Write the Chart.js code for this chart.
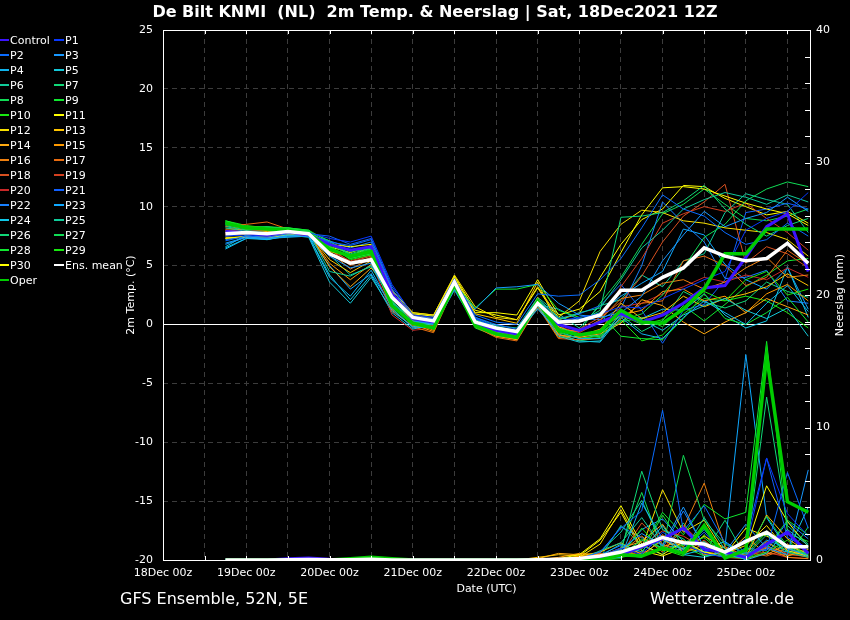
<!DOCTYPE html>
<html>
<head>
<meta charset="utf-8">
<title>De Bilt KNMI 2m Temp. &amp; Neerslag</title>
<script src="https://cdn.jsdelivr.net/npm/chart.js@4.4.1/dist/chart.umd.min.js"></script>
<style>
    html, body { margin: 0; padding: 0; background: #000; }
    #wrap { position: relative; width: 850px; height: 620px; overflow: hidden; font-family: "DejaVu Sans", sans-serif; color: #fff; }
    #chart { position: absolute; left: 0; top: 0; }
    #title { position: absolute; top: 2px; left: 0; width: 870px; text-align: center; font-weight: bold; font-size: 16px; white-space: pre; }
    #legend { position: absolute; left: 0; top: 33px; display: grid; grid-template-columns: 54px 72px; grid-auto-rows: 15px; font-size: 11px; line-height: 15px; }
    #legend .item { white-space: nowrap; }
    #legend .swatch { display: inline-block; width: 9px; height: 2px; vertical-align: middle; margin-right: 1px; position: relative; top: -1px; }
    #legend .item:nth-child(2n) .swatch { width: 10px; }
    .foot { position: absolute; top: 589px; font-size: 16px; }
    #foot-left { left: 120px; }
    #foot-right { right: 56px; }
</style>
</head>
<body>
<div id="wrap">
    <canvas id="chart" width="850" height="620"></canvas>
    <div id="title">De Bilt KNMI  (NL)  2m Temp. &amp; Neerslag | Sat, 18Dec2021 12Z</div>
    <div id="legend"></div>
    <div class="foot" id="foot-left">GFS Ensemble, 52N, 5E</div>
    <div class="foot" id="foot-right">Wetterzentrale.de</div>
</div>
<script>
// forecast hours after 18Dec 00z (run 18Dec 12Z, 6-hourly)
const hours = [18, 24, 30, 36, 42, 48, 54, 60, 66, 72, 78, 84, 90, 96, 102, 108, 114, 120, 126, 132, 138, 144, 150, 156, 162, 168, 174, 180, 186];
const gridHours = [0, 12, 24, 36, 48, 60, 72, 84, 96, 108, 120, 132, 144, 156, 168, 180];
const dayLabels = ['18Dec 00z', '19Dec 00z', '20Dec 00z', '21Dec 00z', '22Dec 00z', '23Dec 00z', '24Dec 00z', '25Dec 00z'];
const tempTicks = [-20, -15, -10, -5, 0, 5, 10, 15, 20, 25];
const rainTicks = [0, 10, 20, 30, 40];

// 2m temperature (°C)
const tControl = [7.9, 7.8, 7.6, 7.9, 7.6, 6.8, 6.3, 6.6, 2.6, 0.5, 0.2, 3.6, 0.1, -0.5, -0.8, 1.9, 0.0, -0.5, 0.2, 0.9, 0.2, 0.8, 1.8, 3.1, 3.3, 5.7, 8.3, 9.4, 4.5];
const tP1  = [7.5, 7.6, 7.5, 7.8, 7.8, 7.3, 7.0, 7.5, 3.4, 0.8, 0.6, 3.9, 0.5, -0.2, -0.6, 2.0, 0.3, 0.6, 0.9, 1.5, 1.4, 2.2, 3.0, 3.8, 4.5, 8.0, 9.0, 9.6, 11.2];
const tP2  = [7.1, 7.5, 7.4, 7.7, 7.6, 7.0, 6.7, 7.2, 3.0, 0.7, 0.5, 3.7, 0.8, 0.2, 0.0, 2.6, 2.4, 2.5, 3.8, 5.6, 8.2, 11.0, 9.8, 9.2, 7.8, 6.8, 7.2, 8.6, 7.5];
const tP3  = [6.8, 7.4, 7.3, 7.5, 7.5, 5.8, 4.8, 5.2, 1.8, 0.3, 0.0, 3.3, 1.3, 3.1, 3.2, 3.4, 1.8, 0.8, 0.6, 1.0, 2.4, 5.4, 7.6, 9.6, 8.3, 9.0, 9.5, 10.8, 9.6];
const tP4  = [6.4, 7.3, 7.3, 7.4, 7.5, 4.0, 2.4, 4.6, 1.4, -0.3, -0.2, 2.9, 0.0, -0.5, -0.8, 1.3, -0.6, -1.2, -1.2, 0.6, -0.8, -1.2, 0.6, 2.0, 1.0, 0.0, 1.8, 3.3, 1.1];
const tP5  = [6.6, 7.6, 7.2, 7.6, 7.4, 3.6, 1.8, 4.0, 1.2, -0.2, 0.1, 3.0, 0.3, -0.6, -1.2, 1.6, -1.0, -1.5, -1.4, 1.0, 0.4, -0.5, 0.8, 1.6, 2.2, 1.2, 0.5, 1.4, -1.0];
const tP6  = [8.2, 7.9, 7.8, 8.0, 7.8, 4.5, 4.1, 5.0, 1.9, 0.5, 0.4, 3.7, 0.2, -0.4, -0.7, 2.1, 0.4, 1.0, 1.4, 3.8, 6.5, 8.0, 9.8, 10.6, 11.2, 10.8, 10.2, 11.0, 10.4];
const tP7  = [8.4, 8.0, 8.2, 8.1, 7.8, 6.9, 6.0, 6.5, 2.2, 0.4, 0.3, 3.8, 0.4, -0.2, -0.5, 2.2, 0.6, 0.2, 1.2, 9.1, 9.2, 9.5, 10.5, 11.8, 9.8, 8.5, 7.5, 8.4, 9.0];
const tP8  = [8.6, 8.1, 8.3, 8.1, 7.9, 7.1, 5.9, 6.4, 2.3, 0.6, 0.4, 3.6, 0.1, -0.6, -0.9, 1.9, -0.3, -0.8, -1.0, 0.3, 0.9, 2.5, 4.8, 7.4, 8.5, 10.5, 11.5, 12.1, 11.7];
const tP9  = [8.8, 8.3, 8.2, 8.2, 8.0, 6.6, 5.6, 6.0, 2.0, 0.2, 0.0, 3.5, 1.4, 3.0, 3.0, 3.4, 1.2, 0.6, 0.9, -1.0, -1.2, -1.3, 0.5, 2.6, 0.5, 0.0, 1.0, 2.3, 0.2];
const tP10 = [8.7, 8.2, 8.1, 8.1, 7.9, 6.7, 5.5, 5.9, 1.8, 0.0, -0.2, 3.4, -0.1, -0.9, -1.2, 1.7, -0.7, -1.2, -1.0, 0.8, 0.0, 0.4, 1.8, 2.8, 2.0, 3.8, 4.5, 2.5, 3.0];
const tP11 = [7.4, 7.4, 7.3, 7.6, 7.7, 6.8, 6.6, 6.8, 2.6, 0.9, 0.7, 4.0, 1.0, 1.0, 0.8, 3.8, 0.8, 1.3, 2.8, 6.1, 9.3, 11.6, 11.7, 11.5, 10.9, 10.3, 9.8, 9.4, 8.4];
const tP12 = [7.3, 7.5, 7.4, 7.7, 7.6, 6.2, 5.8, 6.6, 2.9, 1.0, 0.8, 4.2, 1.5, 0.6, 0.4, 3.2, 0.6, 2.0, 6.2, 8.5, 9.7, 9.5, 8.8, 8.6, 8.2, 8.0, 7.8, 7.2, 5.8];
const tP13 = [7.8, 7.7, 7.9, 7.9, 7.7, 5.5, 4.4, 5.4, 2.7, 0.8, 0.5, 3.9, 0.9, 0.5, 0.1, 3.6, -0.2, -0.9, -0.5, 1.8, 0.5, 1.0, 2.4, 1.5, 2.2, 2.6, 3.2, 4.3, 3.3];
const tP14 = [7.9, 7.6, 7.8, 7.8, 7.8, 4.9, 3.2, 4.8, 2.8, 0.3, -0.4, 3.6, 0.3, -0.8, -1.3, 2.3, -0.9, -1.1, -0.8, 0.1, 2.1, 1.6, 0.2, -0.8, 0.2, 1.0, 2.2, 1.5, 0.8];
const tP15 = [8.0, 8.1, 8.0, 8.0, 7.7, 5.2, 3.8, 5.1, 2.5, 0.0, -0.6, 3.5, 0.0, -1.0, -1.3, 1.6, -1.1, -1.0, -0.4, 0.8, 1.2, 2.8, 3.0, 2.0, 2.4, 1.0, 2.6, 3.4, 2.0];
const tP16 = [8.1, 8.3, 8.2, 8.0, 7.8, 6.2, 4.7, 5.6, 2.4, 0.2, -0.5, 3.3, 0.1, -0.9, -1.2, 2.0, -0.4, -0.6, 0.4, 2.2, 2.5, 3.5, 3.8, 3.0, 3.6, 4.8, 5.7, 4.0, 4.2];
const tP17 = [8.3, 8.5, 8.7, 8.1, 7.8, 6.4, 5.0, 5.7, 1.3, -0.2, -0.7, 3.2, -0.2, -1.1, -1.4, 1.5, -1.2, -1.3, -1.2, 0.5, 1.8, 2.0, 5.4, 5.8, 5.0, 3.3, 4.0, 6.3, 5.1];
const tP18 = [8.0, 7.9, 8.0, 7.8, 7.7, 6.5, 5.3, 5.8, 1.1, -0.1, -0.3, 3.4, 0.2, -0.7, -1.0, 1.8, -0.8, -0.4, 0.6, 1.9, 4.1, 7.0, 9.2, 10.4, 11.9, 5.2, 6.6, 6.0, 4.8];
const tP19 = [7.7, 7.8, 7.6, 7.8, 7.6, 6.3, 5.4, 5.9, 1.5, 0.1, -0.1, 3.5, -0.1, -0.6, -0.9, 1.7, -0.2, -0.7, 0.2, 3.2, 5.6, 8.6, 9.4, 10.0, 9.6, 10.3, 9.0, 7.8, 6.3];
const tP20 = [7.6, 7.7, 7.5, 7.7, 7.5, 6.1, 5.2, 5.4, 0.8, -0.5, -0.3, 3.1, 0.0, -0.7, -1.1, 1.6, -0.9, -1.1, -0.7, 1.5, 1.8, 2.6, 3.2, 4.0, 3.6, 4.2, 3.8, 4.8, 4.0];
const tP21 = [7.5, 7.7, 7.5, 7.8, 7.7, 7.5, 6.8, 7.3, 3.2, 0.9, 0.7, 3.8, 0.6, 0.0, -0.4, 2.2, 0.5, 0.9, 1.6, 3.4, 1.2, -1.6, 1.2, 1.7, 3.8, 9.5, 9.8, 10.3, 9.8];
const tP22 = [7.2, 7.5, 7.4, 7.6, 7.6, 7.1, 6.5, 7.0, 3.0, 0.5, 0.3, 3.6, 0.4, -0.3, -0.6, 2.1, 0.1, 0.5, 0.4, 1.4, 5.0, 10.4, 8.6, 7.0, 3.9, 4.0, 4.6, 2.0, 1.8];
const tP23 = [6.9, 7.4, 7.2, 7.6, 7.5, 5.0, 3.0, 4.3, 1.5, 0.2, 0.2, 3.2, 0.5, -0.2, -0.9, 1.7, 1.3, 0.4, 1.0, 2.4, 3.5, 4.5, 8.1, 7.6, 5.1, 3.8, 3.0, 4.8, 1.3];
const tP24 = [6.5, 7.3, 7.2, 7.5, 7.5, 4.2, 2.1, 4.2, 1.0, -0.4, 0.0, 3.1, 0.2, -0.4, -1.0, 1.4, -0.8, -1.4, -1.5, 0.7, 0.5, 1.3, 1.2, 2.6, 0.8, -0.3, 0.3, 4.9, 0.6];
const tP25 = [8.3, 8.0, 8.0, 7.9, 7.7, 5.9, 4.2, 4.9, 2.1, 0.6, 0.4, 3.7, 0.6, -0.1, -0.3, 2.3, 0.9, -0.3, 1.6, 2.1, 4.2, 3.2, 5.4, 6.0, 9.5, 11.1, 10.6, 10.2, 7.8];
const tP26 = [8.5, 8.1, 8.1, 8.0, 7.8, 6.5, 5.7, 6.1, 2.2, 0.4, 0.2, 3.6, 0.1, -0.5, -0.7, 2.0, 0.0, -1.2, -0.9, 0.8, -0.6, 0.3, 2.8, 1.9, 1.4, 2.0, 3.6, 2.8, 2.3];
const tP27 = [8.6, 8.2, 8.2, 8.1, 7.9, 6.8, 5.9, 6.3, 1.9, 0.3, 0.1, 3.5, -0.2, -0.9, -1.1, 1.8, -0.6, -0.6, 1.8, 4.0, 6.8, 9.4, 10.2, 11.5, 10.2, 9.0, 8.8, 9.2, 9.8];
const tP28 = [8.7, 8.3, 8.3, 8.2, 8.0, 7.0, 6.2, 6.4, 1.7, 0.1, 0.0, 3.4, -0.3, -1.0, -1.2, 1.9, -0.9, -1.4, -1.1, 0.2, 0.6, -0.2, 1.6, 0.3, 1.7, 3.2, 4.2, 5.4, 5.6];
const tP29 = [8.8, 8.4, 8.2, 8.2, 7.9, 6.6, 5.6, 6.0, 1.6, -0.1, -0.3, 3.3, -0.1, -0.8, -1.1, 1.7, -0.5, -1.0, -0.7, 0.4, -1.4, -0.9, 0.9, 2.2, 2.0, 2.4, 2.0, 1.0, -0.3];
const tP30 = [7.3, 7.4, 7.3, 7.6, 7.6, 6.6, 6.1, 6.7, 2.9, 1.0, 0.8, 4.1, 1.2, 0.8, 0.4, 3.1, 0.4, 0.9, 4.0, 6.8, 8.9, 9.8, 11.8, 11.7, 10.7, 10.0, 9.3, 9.6, 8.6];
const tMean = [7.7, 7.8, 7.7, 7.9, 7.7, 6.0, 5.2, 5.5, 2.3, 0.6, 0.3, 3.6, 0.2, -0.3, -0.6, 1.8, 0.2, 0.3, 0.8, 2.9, 2.9, 4.0, 4.8, 6.5, 5.8, 5.4, 5.6, 6.9, 5.2];
const tOper = [8.6, 8.2, 8.1, 8.0, 7.7, 6.4, 5.8, 6.2, 1.6, 0.1, -0.3, 3.4, -0.1, -0.8, -1.1, 2.0, -0.5, -0.9, -0.6, 1.2, 0.2, 0.1, 1.3, 3.0, 6.0, 6.0, 8.1, 8.1, 8.1];

// Neerslag (mm per 6h)
const rControl = [0, 0, 0, 0.1, 0.15, 0.05, 0, 0, 0, 0, 0, 0, 0, 0, 0, 0, 0, 0, 0.1, 0.4, 1.0, 1.6, 2.4, 0.8, 0.6, 0.2, 1.2, 2.1, 0.5];
const rP1  = [0, 0, 0, 0, 0, 0, 0, 0, 0, 0, 0, 0, 0, 0, 0, 0, 0, 0, 0.3, 0.9, 0.4, 2.1, 1.2, 0.5, 0.2, 0.9, 7.7, 3.5, 1.8];
const rP2  = [0, 0, 0, 0, 0, 0, 0, 0, 0, 0, 0, 0, 0, 0, 0, 0, 0, 0.1, 0.6, 2.4, 3.7, 11.3, 2.2, 4.1, 1.3, 0.5, 0.8, 6.6, 2.4];
const rP3  = [0, 0, 0, 0, 0, 0, 0, 0, 0, 0, 0, 0, 0, 0, 0, 0, 0, 0, 0.2, 0.8, 2.0, 1.1, 4.0, 0.9, 0.6, 2.7, 0.9, 0.4, 6.8];
const rP4  = [0, 0, 0, 0, 0, 0, 0, 0, 0, 0, 0, 0, 0, 0, 0, 0, 0, 0, 0.1, 0.2, 4.3, 1.6, 0.8, 2.3, 0.4, 0.1, 1.5, 0.9, 0.3];
const rP5  = [0, 0, 0, 0, 0, 0, 0, 0, 0, 0, 0, 0, 0, 0, 0, 0, 0, 0.1, 0.3, 1.2, 0.6, 2.6, 0.4, 0.2, 0.7, 0, 0.5, 2.3, 1.1];
const rP6  = [0, 0, 0, 0, 0, 0, 0, 0, 0, 0, 0, 0, 0, 0, 0, 0, 0, 0, 0.7, 1.3, 3.2, 1.0, 0.6, 3.2, 0.8, 0.3, 1.9, 0.6, 0.2];
const rP7  = [0, 0, 0, 0, 0, 0, 0, 0.1, 0, 0, 0, 0, 0, 0, 0, 0, 0, 0, 0, 0.6, 6.7, 2.3, 1.6, 0.3, 0.4, 0.2, 12.3, 2.6, 1.2];
const rP8  = [0, 0, 0, 0, 0, 0, 0.1, 0.15, 0, 0, 0, 0, 0, 0, 0, 0, 0, 0, 0, 0.4, 1.5, 0.9, 7.9, 3.0, 1.2, 0.5, 3.3, 1.0, 0.4];
const rP9  = [0, 0, 0, 0, 0, 0, 0.05, 0.1, 0, 0, 0, 0, 0, 0, 0, 0, 0, 0, 0.1, 0.5, 0.8, 3.6, 1.9, 4.2, 3.1, 3.6, 16.5, 2.0, 1.4];
const rP10 = [0, 0, 0, 0, 0, 0, 0, 0.1, 0, 0, 0, 0, 0, 0, 0, 0, 0, 0, 0.2, 0.3, 2.4, 0.7, 1.1, 1.7, 0.3, 0.1, 0.6, 1.5, 0.2];
const rP11 = [0, 0, 0, 0, 0, 0, 0, 0, 0, 0, 0, 0, 0, 0, 0, 0, 0.1, 0.4, 1.6, 4.1, 1.2, 0.4, 1.4, 0.6, 0.2, 0.8, 5.6, 2.9, 1.0];
const rP12 = [0, 0, 0, 0, 0, 0, 0, 0, 0, 0, 0, 0, 0, 0, 0, 0, 0, 0.2, 1.2, 3.8, 0.9, 5.3, 2.1, 3.0, 0.5, 1.1, 2.6, 0.7, 0.3];
const rP13 = [0, 0, 0, 0, 0, 0, 0, 0, 0, 0, 0, 0, 0, 0, 0, 0.2, 0.4, 0.3, 0.6, 1.3, 0.4, 1.5, 0.8, 1.8, 0.9, 0.2, 3.4, 1.6, 0.6];
const rP14 = [0, 0, 0, 0, 0, 0, 0, 0, 0, 0, 0, 0, 0, 0, 0, 0.1, 0.5, 0.4, 0.3, 0.9, 1.4, 2.7, 0.5, 1.2, 0.3, 1.8, 0.4, 1.2, 0.3];
const rP15 = [0, 0, 0, 0, 0, 0, 0, 0, 0, 0, 0, 0, 0, 0, 0, 0, 0.2, 0.5, 0.4, 0.7, 0.3, 1.0, 1.5, 0.4, 0.6, 0.2, 1.4, 0.3, 0.8];
const rP16 = [0, 0, 0, 0, 0, 0, 0, 0, 0, 0, 0, 0, 0, 0, 0, 0, 0, 0.3, 0.2, 0.6, 1.8, 0.6, 2.4, 5.8, 1.0, 0.3, 0.9, 0.2, 0.1];
const rP17 = [0, 0, 0, 0, 0, 0, 0, 0, 0, 0, 0, 0, 0, 0, 0, 0, 0.1, 0.2, 0.5, 0.2, 0.9, 1.9, 1.0, 2.6, 0.4, 0.6, 0.3, 0.9, 0.2];
const rP18 = [0, 0, 0, 0, 0, 0, 0, 0, 0, 0, 0, 0, 0, 0, 0, 0, 0, 0, 0.1, 0.4, 2.8, 1.2, 0.5, 1.5, 0.2, 0.1, 0.5, 0.4, 0.3];
const rP19 = [0, 0, 0, 0, 0, 0, 0, 0, 0, 0, 0, 0, 0, 0, 0, 0, 0, 0, 0.2, 0.7, 1.1, 2.2, 1.8, 0.9, 0.5, 0.2, 1.0, 0.5, 0.2];
const rP20 = [0, 0, 0, 0, 0, 0, 0, 0, 0, 0, 0, 0, 0, 0, 0, 0, 0, 0, 0, 0.3, 0.6, 0.8, 2.6, 1.1, 0.3, 0.4, 0.6, 0.2, 0.1];
const rP21 = [0, 0, 0, 0, 0, 0, 0, 0, 0, 0, 0, 0, 0, 0, 0, 0, 0, 0, 0.4, 1.1, 0.5, 1.8, 0.7, 2.1, 0.4, 1.6, 7.7, 1.7, 0.9];
const rP22 = [0, 0, 0, 0, 0, 0, 0, 0, 0, 0, 0, 0, 0, 0, 0, 0, 0, 0.1, 0.5, 2.5, 1.7, 0.9, 3.7, 1.0, 0.2, 0.9, 0.7, 2.9, 1.6];
const rP23 = [0, 0, 0, 0, 0, 0, 0, 0, 0, 0, 0, 0, 0, 0, 0, 0, 0, 0, 0.3, 0.5, 2.3, 3.1, 1.4, 0.6, 1.0, 15.5, 3.2, 0.8, 0.5];
const rP24 = [0, 0, 0, 0, 0, 0, 0, 0, 0, 0, 0, 0, 0, 0, 0, 0, 0, 0, 0.1, 0.4, 0.2, 1.7, 0.4, 0.8, 1.4, 0.3, 1.0, 0.6, 4.0];
const rP25 = [0, 0, 0, 0, 0, 0, 0, 0, 0, 0, 0, 0, 0, 0, 0, 0, 0, 0, 0.6, 2.1, 4.5, 1.1, 0.9, 1.4, 0.5, 0.6, 2.2, 0.3, 0.8];
const rP26 = [0, 0, 0, 0, 0, 0, 0, 0, 0, 0, 0, 0, 0, 0, 0, 0, 0, 0, 0.2, 2.6, 1.1, 0.4, 2.8, 0.5, 3.0, 0.2, 1.3, 0.7, 0.4];
const rP27 = [0, 0, 0, 0, 0, 0, 0, 0, 0, 0, 0, 0, 0, 0, 0, 0, 0, 0, 0.1, 0.9, 5.1, 0.7, 1.2, 2.4, 0.3, 0.5, 1.1, 0.2, 2.5];
const rP28 = [0, 0, 0, 0, 0, 0, 0.1, 0.2, 0, 0, 0, 0, 0, 0, 0, 0, 0, 0, 0, 0.2, 0.5, 3.4, 1.0, 0.3, 0.6, 0.1, 0.9, 3.0, 1.9];
const rP29 = [0, 0, 0, 0, 0, 0, 0.05, 0.1, 0, 0, 0, 0, 0, 0, 0, 0, 0, 0, 0, 0.1, 1.6, 0.8, 0.3, 1.9, 0.2, 0.4, 2.1, 0.6, 0.3];
const rP30 = [0, 0, 0, 0, 0, 0, 0, 0, 0, 0, 0, 0, 0, 0, 0, 0, 0, 0.3, 1.5, 3.6, 0.7, 0.3, 0.9, 0.6, 0.4, 2.4, 1.8, 1.1, 0.5];
const rMean = [0, 0, 0, 0.02, 0.03, 0.01, 0.02, 0.05, 0, 0, 0, 0, 0, 0, 0, 0.01, 0.05, 0.12, 0.3, 0.6, 1.1, 1.7, 1.3, 1.2, 0.6, 1.4, 2.1, 1.0, 1.0];
const rOper = [0, 0, 0, 0, 0, 0, 0.1, 0.2, 0.1, 0, 0, 0, 0, 0, 0, 0, 0, 0, 0, 0.4, 0.3, 0.9, 0.5, 2.6, 0.15, 0.75, 15.4, 4.4, 3.6];

// legend order: name, colour, line width, temp, rain
const series = [
    ['Control', '#3c14ff', 3, tControl, rControl],
    ['P1', '#0838ff', 1, tP1, rP1],
    ['P2', '#0a6cff', 1, tP2, rP2],
    ['P3', '#1898ff', 1, tP3, rP3],
    ['P4', '#10b4ec', 1, tP4, rP4],
    ['P5', '#14c8d8', 1, tP5, rP5],
    ['P6', '#10cc9a', 1, tP6, rP6],
    ['P7', '#10d878', 1, tP7, rP7],
    ['P8', '#10dc55', 1, tP8, rP8],
    ['P9', '#10e830', 1, tP9, rP9],
    ['P10', '#18e810', 1, tP10, rP10],
    ['P11', '#ffff00', 1, tP11, rP11],
    ['P12', '#f8e000', 1, tP12, rP12],
    ['P13', '#ffc400', 1, tP13, rP13],
    ['P14', '#ffaa10', 1, tP14, rP14],
    ['P15', '#ff9a00', 1, tP15, rP15],
    ['P16', '#ee8010', 1, tP16, rP16],
    ['P17', '#e86c10', 1, tP17, rP17],
    ['P18', '#d85020', 1, tP18, rP18],
    ['P19', '#d44020', 1, tP19, rP19],
    ['P20', '#c82828', 1, tP20, rP20],
    ['P21', '#1060ff', 1, tP21, rP21],
    ['P22', '#1880ff', 1, tP22, rP22],
    ['P23', '#10a8ff', 1, tP23, rP23],
    ['P24', '#10c8e8', 1, tP24, rP24],
    ['P25', '#10cc9a', 1, tP25, rP25],
    ['P26', '#10d878', 1, tP26, rP26],
    ['P27', '#10dc55', 1, tP27, rP27],
    ['P28', '#10e830', 1, tP28, rP28],
    ['P29', '#18e810', 1, tP29, rP29],
    ['P30', '#ffff00', 1, tP30, rP30],
    ['Ens. mean', '#ffffff', 3.5, tMean, rMean],
    ['Oper', '#00cc00', 3.5, tOper, rOper]
];

Chart.defaults.font.family = '"DejaVu Sans", sans-serif';
Chart.defaults.font.size = 11;
Chart.defaults.color = '#ffffff';

function toPoints(values) {
    return values.map((v, i) => ({ x: hours[i], y: v }));
}

function drawOrder(name) {
    if (name === 'Ens. mean') return 0;
    if (name === 'Oper') return 1;
    if (name === 'Control') return 2;
    return 3;
}

function buildDatasets() {
    const sets = [];
    series.forEach(([name, color, width, temp, rain]) => {
        const common = {
            borderColor: color,
            borderWidth: width,
            pointRadius: 0,
            tension: 0,
            fill: false,
            order: drawOrder(name)
        };
        sets.push({ ...common, label: name, data: toPoints(temp), yAxisID: 'yT' });
        sets.push({ ...common, label: name + ' neerslag', data: toPoints(rain), yAxisID: 'yP' });
    });
    return sets;
}

function buildLegend() {
    const box = document.getElementById('legend');
    series.forEach(([name, color]) => {
        box.innerHTML += `<div class="item"><span class="swatch" style="background:${color}"></span>${name}</div>`;
    });
}

// frame, zero line, minor ticks and axis titles
const framePlugin = {
    id: 'frame',
    beforeDatasetsDraw(chart) {
        const { ctx, chartArea: a, scales } = chart;
        const y0 = Math.round(scales.yT.getPixelForValue(0)) + 0.5;
        ctx.save();
        ctx.strokeStyle = '#ffffff';
        ctx.lineWidth = 1.2;
        ctx.beginPath();
        ctx.moveTo(a.left, y0);
        ctx.lineTo(a.right, y0);
        ctx.stroke();
        ctx.restore();
    },
    afterDraw(chart) {
        const { ctx, chartArea: a, scales } = chart;
        ctx.save();
        ctx.strokeStyle = '#ffffff';
        ctx.lineWidth = 1;
        ctx.strokeRect(Math.round(a.left) + 0.5, Math.round(a.top) + 0.5, Math.round(a.right - a.left), Math.round(a.bottom - a.top));

        ctx.beginPath();
        for (let mm = 2; mm < 40; mm += 2) {
            const y = Math.round(scales.yP.getPixelForValue(mm)) + 0.5;
            ctx.moveTo(a.right - 5, y);
            ctx.lineTo(a.right, y);
        }
        gridHours.forEach(h => {
            if (h === 0) return;
            const x = Math.round(scales.x.getPixelForValue(h)) + 0.5;
            ctx.moveTo(x, a.top);
            ctx.lineTo(x, a.top + 4);
            ctx.moveTo(x, a.bottom);
            ctx.lineTo(x, a.bottom - 4);
        });
        ctx.stroke();

        const midY = (a.top + a.bottom) / 2;
        ctx.fillStyle = '#ffffff';
        ctx.font = '11px "DejaVu Sans"';
        ctx.textAlign = 'center';
        ctx.textBaseline = 'middle';

        ctx.save();
        ctx.translate(131, midY);
        ctx.rotate(-Math.PI / 2);
        ctx.fillText('2m Temp. (°C)', 0, 0);
        ctx.restore();

        ctx.save();
        ctx.translate(840, midY);
        ctx.rotate(-Math.PI / 2);
        ctx.fillText('Neerslag (mm)', 0, 0);
        ctx.restore();

        ctx.fillText('Date (UTC)', (a.left + a.right) / 2, 589);
        ctx.restore();
    }
};

function drawChart() {
    const ctx = document.getElementById('chart').getContext('2d');
    new Chart(ctx, {
        type: 'line',
        data: { datasets: buildDatasets() },
        options: {
            responsive: false,
            animation: false,
            devicePixelRatio: 1,
            layout: { padding: { top: 30, bottom: 20, left: 0, right: 0 } },
            plugins: {
                legend: { display: false },
                tooltip: { enabled: false },
                title: { display: false }
            },
            scales: {
                x: {
                    type: 'linear',
                    min: 0,
                    max: 186.5,
                    afterBuildTicks: scale => { scale.ticks = gridHours.map(v => ({ value: v })); },
                    afterFit: scale => { scale.height = 40; },
                    ticks: {
                        autoSkip: false,
                        maxRotation: 0,
                        padding: 7,
                        color: '#ffffff',
                        callback: v => (v % 24 === 0 ? dayLabels[v / 24] : '')
                    },
                    grid: { color: '#3c3c3c', drawTicks: false },
                    border: { display: false, dash: [5, 4] }
                },
                yT: {
                    position: 'left',
                    min: -20,
                    max: 25,
                    afterBuildTicks: scale => { scale.ticks = tempTicks.map(v => ({ value: v })); },
                    afterFit: scale => { scale.width = 163; },
                    ticks: { padding: 10, color: '#ffffff' },
                    grid: {
                        color: c => (c.tick && c.tick.value === 0 ? 'rgba(0,0,0,0)' : '#3c3c3c'),
                        drawTicks: false
                    },
                    border: { display: false, dash: [5, 4] }
                },
                yP: {
                    position: 'right',
                    min: 0,
                    max: 40,
                    afterBuildTicks: scale => { scale.ticks = rainTicks.map(v => ({ value: v })); },
                    afterFit: scale => { scale.width = 40; },
                    ticks: { padding: 6, color: '#ffffff' },
                    grid: { display: false, drawTicks: false },
                    border: { display: false }
                }
            }
        },
        plugins: [framePlugin]
    });
}

document.addEventListener('DOMContentLoaded', () => {
    buildLegend();
    drawChart();
});
</script>
</body>
</html>
